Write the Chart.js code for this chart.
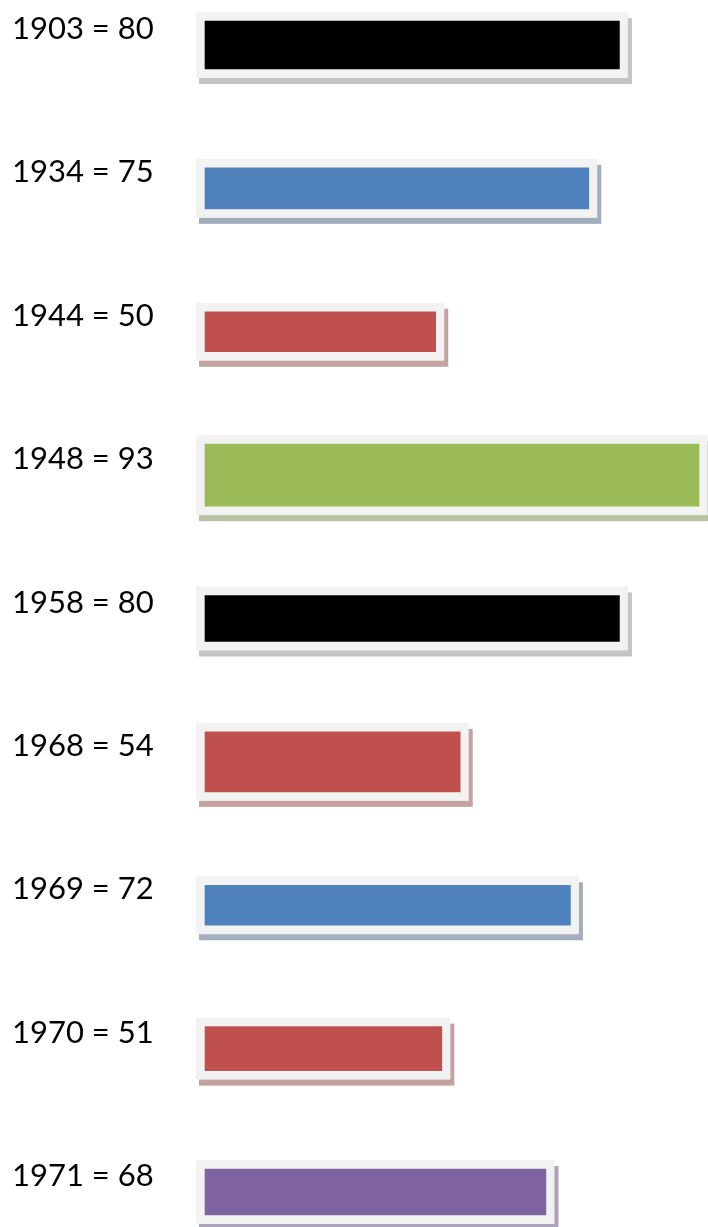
<!DOCTYPE html>
<html lang="en">
<head>
    <meta charset="UTF-8">
    <title>Years</title>
    <script src="https://cdn.jsdelivr.net/npm/chart.js"></script>
    <style>
        html, body { margin: 0; padding: 0; background: #ffffff; }
        #wrap { width: 708px; height: 1227px; position: relative; }
    </style>
</head>
<body>
<div id="wrap"><canvas id="yearChart"></canvas></div>
<script>
// chart data
const years = ['1903', '1934', '1944', '1948', '1958', '1968', '1969', '1970', '1971'];
const values = [80, 75, 50, 93, 80, 54, 72, 51, 68];

// styling
const barColors = ['#000000', '#4f81bd', '#c0504d', '#9bbb59', '#000000', '#c0504d', '#4f81bd', '#c0504d', '#8064a2'];
const barThick = [50, 43, 42, 64, 48, 62, 42, 46, 48];
const shadowFor = {
    '#000000': '#c4c4c4',
    '#4f81bd': '#a4adbe',
    '#c0504d': '#c4a2a2',
    '#9bbb59': '#b6c2a1',
    '#8064a2': '#ada3ba'
};
const axisMin = 12;

const labels = years.map((y, i) => y + ' = ' + values[i]);

// one dataset per bar so each can have its own thickness
const datasets = values.map((v, i) => ({
    data: values.map((val, j) => (j === i ? val : null)),
    backgroundColor: barColors[i],
    borderColor: 'rgba(255,255,255,0.3)',
    borderWidth: 1,
    borderSkipped: false,
    barThickness: barThick[i],
    base: axisMin,
    grouped: false,
    clip: false
}));

// light frame + soft shadow drawn behind each bar
const framePlugin = {
    id: 'frame',
    beforeDatasetsDraw(chart) {
        const ctx = chart.ctx;
        ctx.save();
        chart.data.datasets.forEach((ds, i) => {
            const meta = chart.getDatasetMeta(i);
            meta.data.forEach((el, j) => {
                if (ds.data[j] === null) return;
                const left = Math.min(el.base, el.x) - 8;
                const right = Math.max(el.base, el.x) + 7.5;
                const top = el.y - el.height / 2 - 8;
                const bottom = el.y + el.height / 2 + 8;
                ctx.fillStyle = shadowFor[barColors[i]];
                ctx.fillRect(left + 3, top + 6, right - left + 1, bottom - top);
                ctx.fillStyle = '#f2f2f2';
                ctx.fillRect(left, top, right - left, bottom - top);
            });
        });
        ctx.restore();
    }
};

new Chart(document.getElementById('yearChart').getContext('2d'), {
    type: 'bar',
    data: { labels: labels, datasets: datasets },
    options: {
        indexAxis: 'y',
        responsive: true,
        maintainAspectRatio: false,
        animation: false,
        layout: { padding: { top: 45, bottom: 35, left: 12, right: 0 } },
        plugins: {
            legend: { display: false },
            tooltip: { enabled: false }
        },
        scales: {
            x: {
                display: false,
                min: axisMin,
                max: 94.3
            },
            y: {
                offset: false,
                grid: { display: false, drawTicks: false },
                border: { display: false },
                ticks: {
                    autoSkip: false,
                    crossAlign: 'far',
                    labelOffset: -16,
                    padding: 0,
                    color: '#000000',
                    font: { family: 'Lato, "DejaVu Sans", sans-serif', size: 31 }
                },
                afterFit(scale) {
                    scale.width = 192;
                }
            }
        }
    },
    plugins: [framePlugin]
});
</script>
</body>
</html>
